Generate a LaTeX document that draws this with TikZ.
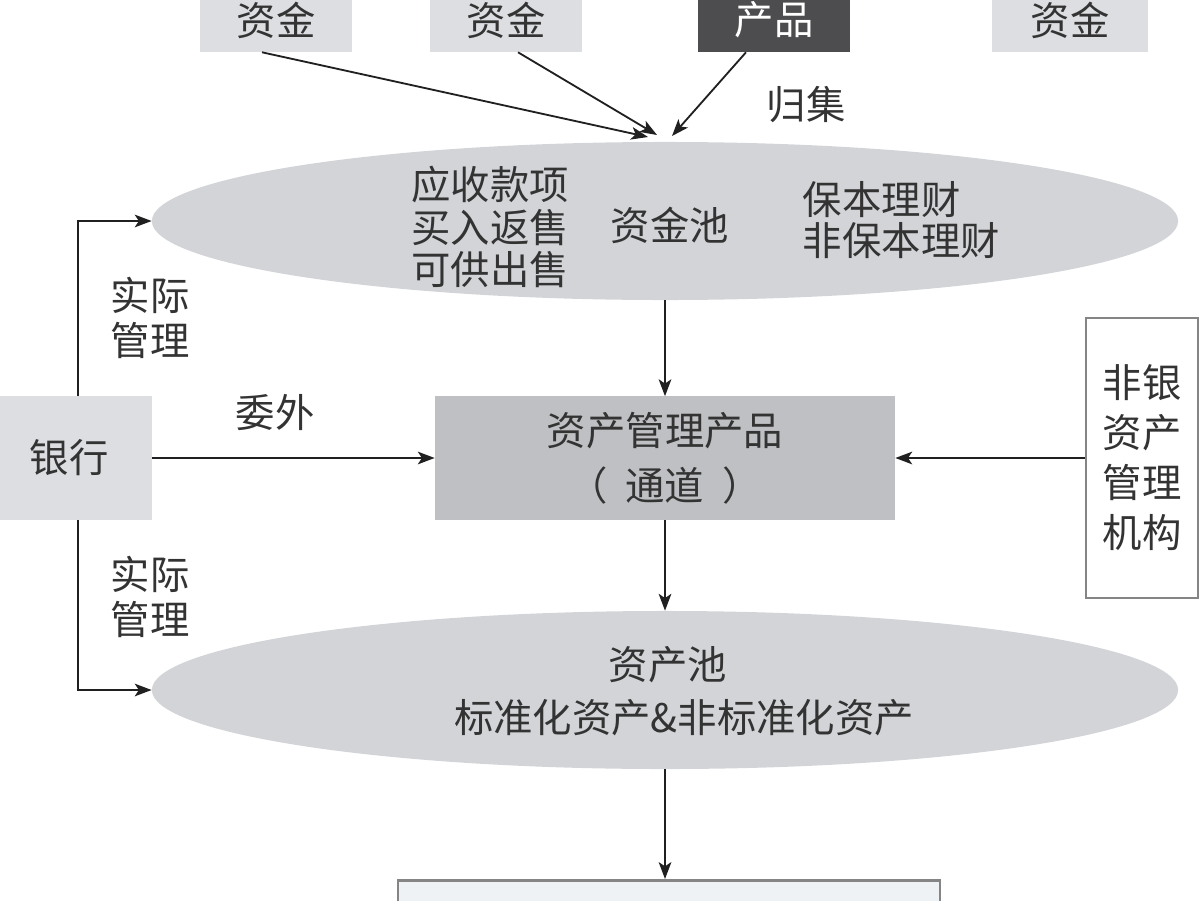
\documentclass[tikz,border=0pt]{standalone}
\usepackage{fontspec}
\setmainfont{Noto Sans CJK SC}
\usetikzlibrary{shapes.geometric,arrows.meta}
\definecolor{boxgray}{HTML}{DCDEE1}
\definecolor{prodgray}{HTML}{4D4D50}
\definecolor{poolgray}{HTML}{D2D4D7}
\definecolor{changray}{HTML}{BFC0C3}
\definecolor{outgray}{HTML}{EFF2F5}
\definecolor{framegray}{HTML}{858585}
\definecolor{textgray}{HTML}{333333}
\definecolor{linegray}{HTML}{202020}
\tikzset{
  fundbox/.style={fill=boxgray, minimum width=3.8cm, minimum height=1.6cm, inner sep=0pt},
  pool/.style={ellipse, fill=poolgray, minimum width=25.65cm, minimum height=3.95cm, inner sep=0pt},
  arr/.style={draw=linegray, line width=1.3pt, -{Stealth[length=12pt,width=9pt,inset=3pt]}},
}
\begin{document}
\begin{tikzpicture}[x=0.025cm,y=-0.025cm,
    every node/.append style={text=textgray, font=\fontsize{28}{34}\selectfont}]
  \useasboundingbox (0,0) rectangle (1200,900);
  % sources of funds
  \node[fundbox] (f1) at (276,20) {资金};
  \node[fundbox] (f2) at (506,20) {资金};
  \node[fundbox, fill=prodgray, text=white] (f3) at (774,20) {产品};
  \node[fundbox, minimum width=3.9cm] (f4) at (1070,20) {资金};
  \node (collect) at (806,105) {归集};
  % pools
  \node[pool] (pool1) at (665,221) {};
  \node[pool] (pool2) at (665,690) {};
  \node[align=center, font=\fontsize{28}{30}\selectfont] (recv) at (490,227) {应收款项\\买入返售\\可供出售};
  \node (fundpool) at (670,225) {资金池};
  \node[anchor=west, align=left, font=\fontsize{28}{29}\selectfont] (wealth) at (798,220) {保本理财\\非保本理财};
  \node (assetpool) at (668,665) {资产池};
  \node (assettype) at (684,718) {标准化资产\&非标准化资产};
  % middle row
  \node[fill=changray, minimum width=11.5cm, minimum height=3.075cm, align=center,
    font=\fontsize{28}{39}\selectfont] (chan) at (665,458) {资产管理产品\\（\hspace{0.45em}通道\hspace{0.45em}）};
  \node[fill=boxgray, minimum width=4.15cm, minimum height=3.075cm] (bank) at (69,458) {银行};
  \node[draw=framegray, line width=2pt, fill=white, minimum width=2.8cm, minimum height=7cm,
    align=center, font=\fontsize{28}{35.6}\selectfont] (nonbank) at (1142,458) {非银\\资产\\管理\\机构};
  \node[draw=framegray, line width=2pt, fill=outgray, minimum width=13.55cm, minimum height=2cm,
    anchor=north] (target) at (669,879) {};
  \node (outsrc) at (275,413) {委外};
  \node[align=center, font=\fontsize{28}{32}\selectfont] (mgmt1) at (150,318) {实际\\管理};
  \node[align=center, font=\fontsize{28}{32}\selectfont] (mgmt2) at (150,597) {实际\\管理};
  % arrows
  \coordinate (in1) at (648,137);
  \coordinate (in2) at (657,135);
  \coordinate (in3) at (672,136);
  \draw[arr] ([xshift=-0.35cm]f1.south) -- (in1);
  \draw[arr] ([xshift=0.3cm]f2.south) -- (in2);
  \draw[arr] ([xshift=-0.7cm]f3.south) -- (in3);
  \draw[arr] (pool1.south) -- (chan.north);
  \draw[arr] (bank.east) -- (chan.west);
  \draw[arr] (nonbank.west) -- (chan.east);
  \draw[arr] (chan.south) -- (pool2.north);
  \draw[arr] (pool2.south) -- (pool2.south |- target.north);
  \draw[arr] ([xshift=0.225cm]bank.north) |- (pool1.west);
  \draw[arr] ([xshift=0.225cm]bank.south) |- (pool2.west);
\end{tikzpicture}
\end{document}
